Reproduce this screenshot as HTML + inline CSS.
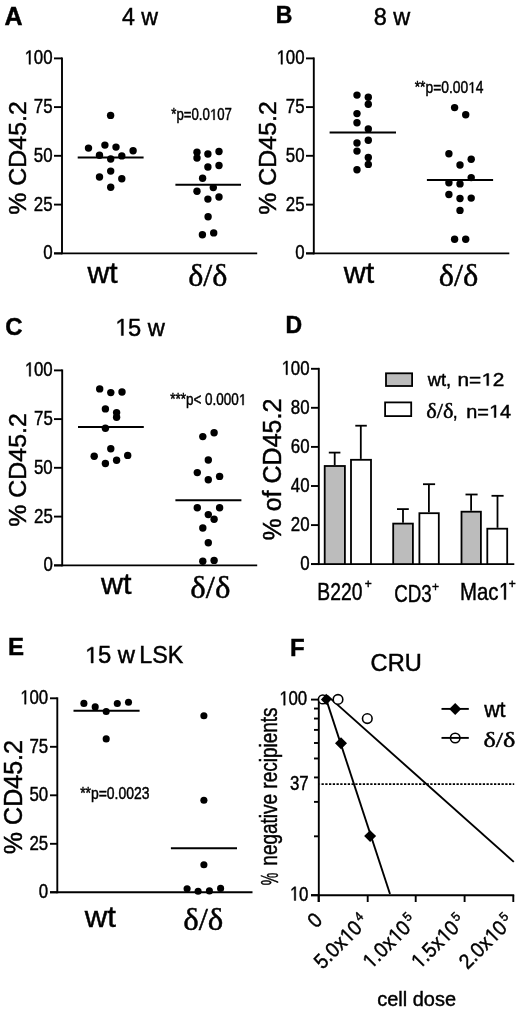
<!DOCTYPE html>
<html><head><meta charset="utf-8"><style>
html,body{margin:0;padding:0;background:#fff;}
body{width:520px;height:1013px;overflow:hidden;}
svg{display:block;will-change:transform;}
text{font-kerning:none;fill:#000;stroke:#000;stroke-width:0.45px;} path{fill:#000;}
</style></head><body>
<svg width="520" height="1013" viewBox="0 0 520 1013">
<rect width="520" height="1013" fill="#fff"/>
<g fill="#000">
<text transform="translate(4.38,24.80)" font-family='"Liberation Sans", sans-serif' font-size="25" font-weight="bold">A</text>
<text transform="translate(121.97,24.80) scale(0.9659,1)" font-family='"Liberation Sans", sans-serif' font-size="24">4 w</text>
<line x1="62.0" y1="57.449999999999996" x2="62.0" y2="254.35" stroke="#000" stroke-width="1.9"/>
<line x1="54.0" y1="58.4" x2="62.0" y2="58.4" stroke="#000" stroke-width="1.9"/>
<line x1="54.0" y1="107.1" x2="62.0" y2="107.1" stroke="#000" stroke-width="1.9"/>
<line x1="54.0" y1="155.8" x2="62.0" y2="155.8" stroke="#000" stroke-width="1.9"/>
<line x1="54.0" y1="204.6" x2="62.0" y2="204.6" stroke="#000" stroke-width="1.9"/>
<line x1="54.0" y1="253.4" x2="62.0" y2="253.4" stroke="#000" stroke-width="1.9"/>
<line x1="54.0" y1="253.4" x2="257.2" y2="253.4" stroke="#000" stroke-width="1.9"/>
<g transform="translate(24.41,64.30) scale(0.8436,1)"><text font-family='"Liberation Sans", sans-serif' font-size="20"> 00</text><path transform="scale(0.00977,-0.00977) translate(0,0)" d="M 555 0 L 736 0 L 736 1409 L 570 1409 L 237 1180 L 237 1010 L 555 1237 Z" stroke="#000" stroke-width="46.1"/></g>
<text transform="translate(33.84,113.00) scale(0.8436,1)" font-family='"Liberation Sans", sans-serif' font-size="20">75</text>
<text transform="translate(33.79,161.70) scale(0.8436,1)" font-family='"Liberation Sans", sans-serif' font-size="20">50</text>
<text transform="translate(33.84,210.50) scale(0.8436,1)" font-family='"Liberation Sans", sans-serif' font-size="20">25</text>
<text transform="translate(43.18,259.30) scale(0.8436,1)" font-family='"Liberation Sans", sans-serif' font-size="20">0</text>
<text transform="translate(25.70,214.69) rotate(-90) scale(1.0252,1)" font-family='"Liberation Sans", sans-serif' font-size="24.3">% CD45.2</text>
<circle cx="110.6" cy="115.4" r="3.7"/>
<circle cx="88.5" cy="148.1" r="3.7"/>
<circle cx="104.9" cy="145.1" r="3.7"/>
<circle cx="116.0" cy="147.1" r="3.7"/>
<circle cx="133.1" cy="150.7" r="3.7"/>
<circle cx="99.5" cy="155.2" r="3.7"/>
<circle cx="121.8" cy="155.9" r="3.7"/>
<circle cx="110.7" cy="159" r="3.7"/>
<circle cx="110.7" cy="171.1" r="3.7"/>
<circle cx="99.5" cy="177" r="3.7"/>
<circle cx="121.8" cy="178.7" r="3.7"/>
<circle cx="110.7" cy="187.2" r="3.7"/>
<circle cx="197.0" cy="152.3" r="3.7"/>
<circle cx="197.0" cy="158.0" r="3.7"/>
<circle cx="207.9" cy="154.0" r="3.7"/>
<circle cx="219.0" cy="151.5" r="3.7"/>
<circle cx="207.9" cy="167.0" r="3.7"/>
<circle cx="219.0" cy="165.5" r="3.7"/>
<circle cx="202.6" cy="178.2" r="3.7"/>
<circle cx="197.0" cy="191.2" r="3.7"/>
<circle cx="213.3" cy="187.6" r="3.7"/>
<circle cx="207.9" cy="199.1" r="3.7"/>
<circle cx="219.0" cy="197.0" r="3.7"/>
<circle cx="208.1" cy="216.7" r="3.7"/>
<circle cx="202.4" cy="234.8" r="3.7"/>
<circle cx="213.7" cy="232.9" r="3.7"/>
<line x1="77.7" y1="157.4" x2="143.6" y2="157.4" stroke="#000" stroke-width="2"/>
<line x1="175.4" y1="184.7" x2="241.0" y2="184.7" stroke="#000" stroke-width="2"/>
<g transform="translate(171.29,119.90) scale(0.8464,1)"><text font-family='"Liberation Sans", sans-serif' font-size="15.6">*p=0.0 07</text><path transform="scale(0.00762,-0.00762) translate(5979,0)" d="M 555 0 L 736 0 L 736 1409 L 570 1409 L 237 1180 L 237 1010 L 555 1237 Z" stroke="#000" stroke-width="59.1"/></g>
<text transform="translate(87.44,283.00) scale(1.0059,1)" font-family='"Liberation Sans", sans-serif' font-size="30">wt</text>
<text transform="translate(188.19,285.70) scale(1.0435,1)" font-family='"Liberation Serif", serif' font-size="30.8">δ/δ</text>
<text transform="translate(275.76,22.80)" font-family='"Liberation Sans", sans-serif' font-size="23" font-weight="bold">B</text>
<text transform="translate(373.78,24.80) scale(0.9790,1)" font-family='"Liberation Sans", sans-serif' font-size="24">8 w</text>
<line x1="313.8" y1="57.449999999999996" x2="313.8" y2="254.35" stroke="#000" stroke-width="1.9"/>
<line x1="306.0" y1="58.4" x2="313.8" y2="58.4" stroke="#000" stroke-width="1.9"/>
<line x1="306.0" y1="107.1" x2="313.8" y2="107.1" stroke="#000" stroke-width="1.9"/>
<line x1="306.0" y1="155.8" x2="313.8" y2="155.8" stroke="#000" stroke-width="1.9"/>
<line x1="306.0" y1="204.6" x2="313.8" y2="204.6" stroke="#000" stroke-width="1.9"/>
<line x1="306.0" y1="253.4" x2="313.8" y2="253.4" stroke="#000" stroke-width="1.9"/>
<line x1="306.0" y1="253.4" x2="509.3" y2="253.4" stroke="#000" stroke-width="1.9"/>
<g transform="translate(276.41,64.30) scale(0.8436,1)"><text font-family='"Liberation Sans", sans-serif' font-size="20"> 00</text><path transform="scale(0.00977,-0.00977) translate(0,0)" d="M 555 0 L 736 0 L 736 1409 L 570 1409 L 237 1180 L 237 1010 L 555 1237 Z" stroke="#000" stroke-width="46.1"/></g>
<text transform="translate(285.84,113.00) scale(0.8436,1)" font-family='"Liberation Sans", sans-serif' font-size="20">75</text>
<text transform="translate(285.79,161.70) scale(0.8436,1)" font-family='"Liberation Sans", sans-serif' font-size="20">50</text>
<text transform="translate(285.84,210.50) scale(0.8436,1)" font-family='"Liberation Sans", sans-serif' font-size="20">25</text>
<text transform="translate(295.18,259.30) scale(0.8436,1)" font-family='"Liberation Sans", sans-serif' font-size="20">0</text>
<text transform="translate(275.70,214.69) rotate(-90) scale(1.0252,1)" font-family='"Liberation Sans", sans-serif' font-size="24.3">% CD45.2</text>
<circle cx="357.0" cy="95.1" r="3.7"/>
<circle cx="357.0" cy="113.6" r="3.7"/>
<circle cx="357.0" cy="122.8" r="3.7"/>
<circle cx="357.0" cy="143" r="3.7"/>
<circle cx="357.0" cy="151.1" r="3.7"/>
<circle cx="357.0" cy="169.7" r="3.7"/>
<circle cx="368.3" cy="97.3" r="3.7"/>
<circle cx="368.3" cy="104.2" r="3.7"/>
<circle cx="368.3" cy="129" r="3.7"/>
<circle cx="368.3" cy="140.3" r="3.7"/>
<circle cx="368.3" cy="157.5" r="3.7"/>
<circle cx="368.3" cy="164.4" r="3.7"/>
<circle cx="454.6" cy="107.6" r="3.7"/>
<circle cx="465.7" cy="114.7" r="3.7"/>
<circle cx="448.9" cy="153.8" r="3.7"/>
<circle cx="471.2" cy="159.3" r="3.7"/>
<circle cx="460" cy="165" r="3.7"/>
<circle cx="471.2" cy="177.6" r="3.7"/>
<circle cx="448.9" cy="182.7" r="3.7"/>
<circle cx="460" cy="183.9" r="3.7"/>
<circle cx="448.9" cy="194.5" r="3.7"/>
<circle cx="460" cy="198.5" r="3.7"/>
<circle cx="471.2" cy="198.1" r="3.7"/>
<circle cx="460" cy="210.4" r="3.7"/>
<circle cx="454.6" cy="239.2" r="3.7"/>
<circle cx="465.7" cy="239.2" r="3.7"/>
<line x1="329.6" y1="132.4" x2="396.0" y2="132.4" stroke="#000" stroke-width="2"/>
<line x1="426.9" y1="180.1" x2="493.1" y2="180.1" stroke="#000" stroke-width="2"/>
<g transform="translate(414.68,92.90) scale(0.8865,1)"><text font-family='"Liberation Sans", sans-serif' font-size="15.6">**p=0.00 4</text><path transform="scale(0.00762,-0.00762) translate(7915,0)" d="M 555 0 L 736 0 L 736 1409 L 570 1409 L 237 1180 L 237 1010 L 555 1237 Z" stroke="#000" stroke-width="59.1"/></g>
<text transform="translate(343.74,283.00) scale(1.0160,1)" font-family='"Liberation Sans", sans-serif' font-size="30">wt</text>
<text transform="translate(438.68,286.20) scale(1.0548,1)" font-family='"Liberation Serif", serif' font-size="30.8">δ/δ</text>
<text transform="translate(5.22,335.20)" font-family='"Liberation Sans", sans-serif' font-size="24" font-weight="bold">C</text>
<g transform="translate(114.86,335.50) scale(0.9880,1)"><text font-family='"Liberation Sans", sans-serif' font-size="24"> 5 w</text><path transform="scale(0.01172,-0.01172) translate(0,0)" d="M 555 0 L 736 0 L 736 1409 L 570 1409 L 237 1180 L 237 1010 L 555 1237 Z" stroke="#000" stroke-width="38.4"/></g>
<line x1="62.2" y1="369.45" x2="62.2" y2="566.35" stroke="#000" stroke-width="1.9"/>
<line x1="54.0" y1="370.4" x2="62.2" y2="370.4" stroke="#000" stroke-width="1.9"/>
<line x1="54.0" y1="419.1" x2="62.2" y2="419.1" stroke="#000" stroke-width="1.9"/>
<line x1="54.0" y1="467.8" x2="62.2" y2="467.8" stroke="#000" stroke-width="1.9"/>
<line x1="54.0" y1="516.6" x2="62.2" y2="516.6" stroke="#000" stroke-width="1.9"/>
<line x1="54.0" y1="565.4" x2="62.2" y2="565.4" stroke="#000" stroke-width="1.9"/>
<line x1="54.0" y1="565.4" x2="257.2" y2="565.4" stroke="#000" stroke-width="1.9"/>
<g transform="translate(24.61,376.30) scale(0.8436,1)"><text font-family='"Liberation Sans", sans-serif' font-size="20"> 00</text><path transform="scale(0.00977,-0.00977) translate(0,0)" d="M 555 0 L 736 0 L 736 1409 L 570 1409 L 237 1180 L 237 1010 L 555 1237 Z" stroke="#000" stroke-width="46.1"/></g>
<text transform="translate(34.04,425.00) scale(0.8436,1)" font-family='"Liberation Sans", sans-serif' font-size="20">75</text>
<text transform="translate(33.99,473.70) scale(0.8436,1)" font-family='"Liberation Sans", sans-serif' font-size="20">50</text>
<text transform="translate(34.04,522.50) scale(0.8436,1)" font-family='"Liberation Sans", sans-serif' font-size="20">25</text>
<text transform="translate(43.38,571.30) scale(0.8436,1)" font-family='"Liberation Sans", sans-serif' font-size="20">0</text>
<text transform="translate(25.70,526.69) rotate(-90) scale(1.0252,1)" font-family='"Liberation Sans", sans-serif' font-size="24.3">% CD45.2</text>
<circle cx="99.7" cy="388.9" r="3.7"/>
<circle cx="110.8" cy="392.6" r="3.7"/>
<circle cx="122" cy="392" r="3.7"/>
<circle cx="105.4" cy="408.9" r="3.7"/>
<circle cx="116.6" cy="412.6" r="3.7"/>
<circle cx="116.6" cy="417.2" r="3.7"/>
<circle cx="105.4" cy="428.2" r="3.7"/>
<circle cx="110.8" cy="448.8" r="3.7"/>
<circle cx="94.2" cy="456.2" r="3.7"/>
<circle cx="127.7" cy="455.4" r="3.7"/>
<circle cx="116.6" cy="460.3" r="3.7"/>
<circle cx="105.4" cy="463.5" r="3.7"/>
<circle cx="202.8" cy="436.6" r="3.7"/>
<circle cx="214.1" cy="432.8" r="3.7"/>
<circle cx="208.3" cy="460" r="3.7"/>
<circle cx="197.3" cy="472.6" r="3.7"/>
<circle cx="219.6" cy="476.4" r="3.7"/>
<circle cx="208.3" cy="479.8" r="3.7"/>
<circle cx="197.3" cy="507.8" r="3.7"/>
<circle cx="219.6" cy="507.8" r="3.7"/>
<circle cx="208.3" cy="514.6" r="3.7"/>
<circle cx="214.1" cy="519.3" r="3.7"/>
<circle cx="202.8" cy="528" r="3.7"/>
<circle cx="208.3" cy="542.8" r="3.7"/>
<circle cx="202.8" cy="561.3" r="3.7"/>
<circle cx="214.1" cy="560.4" r="3.7"/>
<line x1="78.0" y1="426.9" x2="143.8" y2="426.9" stroke="#000" stroke-width="2"/>
<line x1="175.4" y1="500.3" x2="241.4" y2="500.3" stroke="#000" stroke-width="2"/>
<g transform="translate(170.18,405.10) scale(0.8640,1)"><text font-family='"Liberation Sans", sans-serif' font-size="15.6">***p&lt; 0.000 </text><path transform="scale(0.00762,-0.00762) translate(10420,0)" d="M 555 0 L 736 0 L 736 1409 L 570 1409 L 237 1180 L 237 1010 L 555 1237 Z" stroke="#000" stroke-width="59.1"/></g>
<text transform="translate(101.04,594.20) scale(1.0193,1)" font-family='"Liberation Sans", sans-serif' font-size="30">wt</text>
<text transform="translate(190.37,598.30) scale(1.0662,1)" font-family='"Liberation Serif", serif' font-size="30.8">δ/δ</text>
<text transform="translate(285.46,333.30)" font-family='"Liberation Sans", sans-serif' font-size="23" font-weight="bold">D</text>
<line x1="318.8" y1="367.85" x2="318.8" y2="565.0500000000001" stroke="#000" stroke-width="1.9"/>
<line x1="311.0" y1="368.8" x2="318.8" y2="368.8" stroke="#000" stroke-width="1.9"/>
<line x1="311.0" y1="407.8" x2="318.8" y2="407.8" stroke="#000" stroke-width="1.9"/>
<line x1="311.0" y1="446.9" x2="318.8" y2="446.9" stroke="#000" stroke-width="1.9"/>
<line x1="311.0" y1="486.0" x2="318.8" y2="486.0" stroke="#000" stroke-width="1.9"/>
<line x1="311.0" y1="525.1" x2="318.8" y2="525.1" stroke="#000" stroke-width="1.9"/>
<line x1="311.0" y1="564.1" x2="318.8" y2="564.1" stroke="#000" stroke-width="1.9"/>
<line x1="311.0" y1="564.1" x2="514.3" y2="564.1" stroke="#000" stroke-width="1.9"/>
<g transform="translate(281.41,374.70) scale(0.8436,1)"><text font-family='"Liberation Sans", sans-serif' font-size="20"> 00</text><path transform="scale(0.00977,-0.00977) translate(0,0)" d="M 555 0 L 736 0 L 736 1409 L 570 1409 L 237 1180 L 237 1010 L 555 1237 Z" stroke="#000" stroke-width="46.1"/></g>
<text transform="translate(290.79,413.70) scale(0.8436,1)" font-family='"Liberation Sans", sans-serif' font-size="20">80</text>
<text transform="translate(290.79,452.80) scale(0.8436,1)" font-family='"Liberation Sans", sans-serif' font-size="20">60</text>
<text transform="translate(290.79,491.90) scale(0.8436,1)" font-family='"Liberation Sans", sans-serif' font-size="20">40</text>
<text transform="translate(290.79,531.00) scale(0.8436,1)" font-family='"Liberation Sans", sans-serif' font-size="20">20</text>
<text transform="translate(300.18,570.00) scale(0.8436,1)" font-family='"Liberation Sans", sans-serif' font-size="20">0</text>
<text transform="translate(281.00,540.59) rotate(-90) scale(1.0022,1)" font-family='"Liberation Sans", sans-serif' font-size="25">% of CD45.2</text>
<line x1="334.7" y1="452.6" x2="334.7" y2="465.1" stroke="#000" stroke-width="1.8"/>
<line x1="328.8" y1="452.6" x2="340.4" y2="452.6" stroke="#000" stroke-width="1.8"/>
<rect x="324.70" y="466.00" width="20.20" height="98.10" fill="#bcbcbc" stroke="#000" stroke-width="1.8"/>
<line x1="360.8" y1="425.7" x2="360.8" y2="458.9" stroke="#000" stroke-width="1.8"/>
<line x1="355.3" y1="425.7" x2="366.8" y2="425.7" stroke="#000" stroke-width="1.8"/>
<rect x="351.00" y="459.80" width="20.00" height="104.30" fill="#fff" stroke="#000" stroke-width="1.8"/>
<line x1="403.0" y1="509.1" x2="403.0" y2="522.7" stroke="#000" stroke-width="1.8"/>
<line x1="397.0" y1="509.1" x2="408.8" y2="509.1" stroke="#000" stroke-width="1.8"/>
<rect x="393.20" y="523.60" width="19.70" height="40.50" fill="#bcbcbc" stroke="#000" stroke-width="1.8"/>
<line x1="428.9" y1="484.2" x2="428.9" y2="512.3" stroke="#000" stroke-width="1.8"/>
<line x1="423.0" y1="484.2" x2="435.1" y2="484.2" stroke="#000" stroke-width="1.8"/>
<rect x="419.40" y="513.20" width="19.40" height="50.90" fill="#fff" stroke="#000" stroke-width="1.8"/>
<line x1="471.1" y1="494.5" x2="471.1" y2="510.8" stroke="#000" stroke-width="1.8"/>
<line x1="465.5" y1="494.5" x2="477.6" y2="494.5" stroke="#000" stroke-width="1.8"/>
<rect x="461.50" y="511.70" width="19.40" height="52.40" fill="#bcbcbc" stroke="#000" stroke-width="1.8"/>
<line x1="497.5" y1="495.8" x2="497.5" y2="527.8" stroke="#000" stroke-width="1.8"/>
<line x1="491.5" y1="495.8" x2="503.6" y2="495.8" stroke="#000" stroke-width="1.8"/>
<rect x="487.30" y="528.70" width="19.90" height="35.40" fill="#fff" stroke="#000" stroke-width="1.8"/>
<rect x="386.0" y="373.29999999999995" width="26.099999999999998" height="12.7" fill="#bcbcbc" stroke="#000" stroke-width="1.8"/>
<rect x="385.09999999999997" y="402.4" width="26.099999999999998" height="13.7" fill="#fff" stroke="#000" stroke-width="1.8"/>
<text transform="translate(427.73,385.60) scale(1.0425,1)" font-family='"Liberation Sans", sans-serif' font-size="17.5">wt,</text>
<g transform="translate(457.52,385.60) scale(1.1879,1)"><text font-family='"Liberation Sans", sans-serif' font-size="17.5">n= 2</text><path transform="scale(0.00854,-0.00854) translate(2335,0)" d="M 555 0 L 736 0 L 736 1409 L 570 1409 L 237 1180 L 237 1010 L 555 1237 Z" stroke="#000" stroke-width="52.7"/></g>
<text transform="translate(426.26,418.20) scale(1.0853,1)" font-family='"Liberation Serif", serif' font-size="20.6">δ/δ</text>
<text transform="translate(452.83,417.50)" font-family='"Liberation Sans", sans-serif' font-size="17.5">,</text>
<g transform="translate(466.18,417.50) scale(1.1175,1)"><text font-family='"Liberation Sans", sans-serif' font-size="17.8">n= 4</text><path transform="scale(0.00869,-0.00869) translate(2335,0)" d="M 555 0 L 736 0 L 736 1409 L 570 1409 L 237 1180 L 237 1010 L 555 1237 Z" stroke="#000" stroke-width="51.8"/></g>
<text transform="translate(317.31,599.60) scale(0.8054,1)" font-family='"Liberation Sans", sans-serif' font-size="24">B220</text>
<text transform="translate(364.71,588.00)" font-family='"Liberation Sans", sans-serif' font-size="12">+</text>
<text transform="translate(394.25,602.00) scale(0.7805,1)" font-family='"Liberation Sans", sans-serif' font-size="24">CD3</text>
<text transform="translate(432.11,590.50)" font-family='"Liberation Sans", sans-serif' font-size="12">+</text>
<g transform="translate(460.03,599.60) scale(0.8501,1)"><text font-family='"Liberation Sans", sans-serif' font-size="24">Mac </text><path transform="scale(0.01172,-0.01172) translate(3869,0)" d="M 555 0 L 736 0 L 736 1409 L 570 1409 L 237 1180 L 237 1010 L 555 1237 Z" stroke="#000" stroke-width="38.4"/></g>
<text transform="translate(508.81,588.20)" font-family='"Liberation Sans", sans-serif' font-size="12">+</text>
<text transform="translate(7.89,654.70)" font-family='"Liberation Sans", sans-serif' font-size="24" font-weight="bold">E</text>
<g transform="translate(84.64,663.00) scale(1.0375,1)"><text font-family='"Liberation Sans", sans-serif' font-size="23"> 5 w</text><path transform="scale(0.01123,-0.01123) translate(0,0)" d="M 555 0 L 736 0 L 736 1409 L 570 1409 L 237 1180 L 237 1010 L 555 1237 Z" stroke="#000" stroke-width="40.1"/></g>
<text transform="translate(139.29,663.00) scale(1.0138,1)" font-family='"Liberation Sans", sans-serif' font-size="23">LSK</text>
<line x1="57.3" y1="697.3499999999999" x2="57.3" y2="893.25" stroke="#000" stroke-width="1.9"/>
<line x1="50.0" y1="698.3" x2="57.3" y2="698.3" stroke="#000" stroke-width="1.9"/>
<line x1="50.0" y1="746.8" x2="57.3" y2="746.8" stroke="#000" stroke-width="1.9"/>
<line x1="50.0" y1="795.3" x2="57.3" y2="795.3" stroke="#000" stroke-width="1.9"/>
<line x1="50.0" y1="843.8" x2="57.3" y2="843.8" stroke="#000" stroke-width="1.9"/>
<line x1="50.0" y1="892.3" x2="57.3" y2="892.3" stroke="#000" stroke-width="1.9"/>
<line x1="50.0" y1="892.3" x2="252.5" y2="892.3" stroke="#000" stroke-width="1.9"/>
<g transform="translate(20.01,704.20) scale(0.8436,1)"><text font-family='"Liberation Sans", sans-serif' font-size="20"> 00</text><path transform="scale(0.00977,-0.00977) translate(0,0)" d="M 555 0 L 736 0 L 736 1409 L 570 1409 L 237 1180 L 237 1010 L 555 1237 Z" stroke="#000" stroke-width="46.1"/></g>
<text transform="translate(29.44,752.70) scale(0.8436,1)" font-family='"Liberation Sans", sans-serif' font-size="20">75</text>
<text transform="translate(29.39,801.20) scale(0.8436,1)" font-family='"Liberation Sans", sans-serif' font-size="20">50</text>
<text transform="translate(29.44,849.70) scale(0.8436,1)" font-family='"Liberation Sans", sans-serif' font-size="20">25</text>
<text transform="translate(38.78,898.20) scale(0.8436,1)" font-family='"Liberation Sans", sans-serif' font-size="20">0</text>
<text transform="translate(21.50,854.19) rotate(-90) scale(1.0028,1)" font-family='"Liberation Sans", sans-serif' font-size="25">% CD45.2</text>
<circle cx="83.9" cy="703.4" r="3.55"/>
<circle cx="95.2" cy="706.9" r="3.55"/>
<circle cx="106.2" cy="711.5" r="3.55"/>
<circle cx="117.3" cy="703.5" r="3.55"/>
<circle cx="128.5" cy="702.3" r="3.55"/>
<circle cx="106.2" cy="738.9" r="3.55"/>
<circle cx="203.9" cy="715.8" r="3.55"/>
<circle cx="203.9" cy="800.2" r="3.55"/>
<circle cx="203.9" cy="864.7" r="3.55"/>
<circle cx="187.1" cy="888.8" r="3.55"/>
<circle cx="198.1" cy="891.3" r="3.55"/>
<circle cx="209.4" cy="890.9" r="3.55"/>
<circle cx="220.6" cy="888.4" r="3.55"/>
<line x1="73.5" y1="710.8" x2="139.6" y2="710.8" stroke="#000" stroke-width="2"/>
<line x1="170.9" y1="848.3" x2="237.0" y2="848.3" stroke="#000" stroke-width="2"/>
<text transform="translate(80.18,798.90) scale(0.8930,1)" font-family='"Liberation Sans", sans-serif' font-size="15.6">**p=0.0023</text>
<text transform="translate(84.85,927.00) scale(1.0394,1)" font-family='"Liberation Sans", sans-serif' font-size="30">wt</text>
<text transform="translate(183.16,930.00) scale(1.0690,1)" font-family='"Liberation Serif", serif' font-size="30.8">δ/δ</text>
<text transform="translate(289.89,656.00)" font-family='"Liberation Sans", sans-serif' font-size="24" font-weight="bold">F</text>
<text transform="translate(370.60,670.50) scale(1.0259,1)" font-family='"Liberation Sans", sans-serif' font-size="23">CRU</text>
<line x1="318.8" y1="698.65" x2="318.8" y2="902.0" stroke="#000" stroke-width="1.9"/>
<line x1="311.0" y1="699.6" x2="318.8" y2="699.6" stroke="#000" stroke-width="1.9"/>
<line x1="311.0" y1="895.2" x2="318.8" y2="895.2" stroke="#000" stroke-width="1.9"/>
<line x1="314.0" y1="708.5501651536681" x2="318.8" y2="708.5501651536681" stroke="#000" stroke-width="1.9"/>
<line x1="314.0" y1="718.5555985443759" x2="318.8" y2="718.5555985443759" stroke="#000" stroke-width="1.9"/>
<line x1="314.0" y1="729.8988233732114" x2="318.8" y2="729.8988233732114" stroke="#000" stroke-width="1.9"/>
<line x1="314.0" y1="742.9936154249593" x2="318.8" y2="742.9936154249593" stroke="#000" stroke-width="1.9"/>
<line x1="314.0" y1="758.4814671518748" x2="318.8" y2="758.4814671518748" stroke="#000" stroke-width="1.9"/>
<line x1="314.0" y1="777.4370656962506" x2="318.8" y2="777.4370656962506" stroke="#000" stroke-width="1.9"/>
<line x1="314.0" y1="801.8750825768341" x2="318.8" y2="801.8750825768341" stroke="#000" stroke-width="1.9"/>
<line x1="314.0" y1="836.3185328481253" x2="318.8" y2="836.3185328481253" stroke="#000" stroke-width="1.9"/>
<line x1="311.0" y1="895.2" x2="514.2" y2="895.2" stroke="#000" stroke-width="1.9"/>
<line x1="318.6" y1="895.2" x2="318.6" y2="902.0" stroke="#000" stroke-width="1.9"/>
<line x1="367.7" y1="895.2" x2="367.7" y2="902.0" stroke="#000" stroke-width="1.9"/>
<line x1="415.7" y1="895.2" x2="415.7" y2="902.0" stroke="#000" stroke-width="1.9"/>
<line x1="464.6" y1="895.2" x2="464.6" y2="902.0" stroke="#000" stroke-width="1.9"/>
<line x1="513.3" y1="895.2" x2="513.3" y2="902.0" stroke="#000" stroke-width="1.9"/>
<g transform="translate(279.11,705.20) scale(0.8436,1)"><text font-family='"Liberation Sans", sans-serif' font-size="20"> 00</text><path transform="scale(0.00977,-0.00977) translate(0,0)" d="M 555 0 L 736 0 L 736 1409 L 570 1409 L 237 1180 L 237 1010 L 555 1237 Z" stroke="#000" stroke-width="46.1"/></g>
<text transform="translate(289.88,790.00) scale(0.8436,1)" font-family='"Liberation Sans", sans-serif' font-size="20">37</text>
<g transform="translate(289.69,900.50) scale(0.8436,1)"><text font-family='"Liberation Sans", sans-serif' font-size="20"> 0</text><path transform="scale(0.00977,-0.00977) translate(0,0)" d="M 555 0 L 736 0 L 736 1409 L 570 1409 L 237 1180 L 237 1010 L 555 1237 Z" stroke="#000" stroke-width="46.1"/></g>
<line x1="319.6" y1="784.1" x2="514.2" y2="784.1" stroke="#000" stroke-width="1.8" stroke-dasharray="2.3 1.45" stroke-dashoffset="-1.9"/>
<line x1="326.2" y1="699.4" x2="390.0" y2="894.0" stroke="#000" stroke-width="1.9"/>
<line x1="327.0" y1="695.4" x2="513.8" y2="861.9" stroke="#000" stroke-width="1.9"/>
<circle cx="322.8" cy="699.4" r="4.4" fill="#fff" stroke="#000" stroke-width="1.6"/>
<polygon points="320.9,699.4 326.2,693.8 331.5,699.4 326.2,705.0"/>
<circle cx="338.0" cy="699.4" r="4.8" fill="#fff" stroke="#000" stroke-width="1.6"/>
<circle cx="367.3" cy="718.6" r="4.8" fill="#fff" stroke="#000" stroke-width="1.6"/>
<polygon points="335.0,743.3 341.0,737.3 347.0,743.3 341.0,749.3"/>
<polygon points="364.1,836.1 370.1,830.2 376.1,836.1 370.1,842.0"/>
<line x1="441.5" y1="708.9" x2="468.8" y2="708.9" stroke="#000" stroke-width="1.9"/>
<polygon points="449.2,709.0 455.2,702.9 461.2,709.0 455.2,715.1"/>
<line x1="441.5" y1="737.9" x2="468.8" y2="737.9" stroke="#000" stroke-width="1.9"/>
<circle cx="455.2" cy="738.0" r="4.75" fill="none" stroke="#000" stroke-width="1.6"/>
<text transform="translate(484.13,717.40) scale(0.9739,1)" font-family='"Liberation Sans", sans-serif' font-size="22">wt</text>
<text transform="translate(483.41,746.70) scale(1.1909,1)" font-family='"Liberation Serif", serif' font-size="22">δ/δ</text>
<text transform="translate(277.60,885.31) rotate(-90) scale(0.5789,1)" font-family='"Liberation Sans", sans-serif' font-size="24.5">%</text>
<text transform="translate(277.00,865.66) rotate(-90) scale(0.8257,1)" font-family='"Liberation Sans", sans-serif' font-size="23">negative recipients</text>
<text transform="translate(377.25,1006.00) scale(0.9512,1)" font-family='"Liberation Sans", sans-serif' font-size="21">cell dose</text>
<text transform="translate(323.5,921.5) rotate(-45) scale(0.915,1) translate(-11.68,0)" font-family='"Liberation Sans", sans-serif' font-size="21">0</text>
<g transform="translate(369.75,922.75) rotate(-45) scale(0.915,1) translate(-72.95,0)"><text font-family='"Liberation Sans", sans-serif' font-size="21">5.0x 0</text><path transform="scale(0.01025,-0.01025) translate(3871,0)" d="M 555 0 L 736 0 L 736 1409 L 570 1409 L 237 1180 L 237 1010 L 555 1237 Z" stroke="#000" stroke-width="43.9"/></g>
<text transform="translate(369.75,922.75) rotate(-45) scale(0.915,1) translate(-7.24,-7.76)" font-family='"Liberation Sans", sans-serif' font-size="13.02">4</text>
<g transform="translate(418.25,922.75) rotate(-45) scale(0.915,1) translate(-72.95,0)"><text font-family='"Liberation Sans", sans-serif' font-size="21"> .0x 0</text><path transform="scale(0.01025,-0.01025) translate(0,0)" d="M 555 0 L 736 0 L 736 1409 L 570 1409 L 237 1180 L 237 1010 L 555 1237 Z" stroke="#000" stroke-width="43.9"/><path transform="scale(0.01025,-0.01025) translate(3871,0)" d="M 555 0 L 736 0 L 736 1409 L 570 1409 L 237 1180 L 237 1010 L 555 1237 Z" stroke="#000" stroke-width="43.9"/></g>
<text transform="translate(418.25,922.75) rotate(-45) scale(0.915,1) translate(-7.24,-7.76)" font-family='"Liberation Sans", sans-serif' font-size="13.02">5</text>
<g transform="translate(466.75,922.75) rotate(-45) scale(0.915,1) translate(-72.95,0)"><text font-family='"Liberation Sans", sans-serif' font-size="21"> .5x 0</text><path transform="scale(0.01025,-0.01025) translate(0,0)" d="M 555 0 L 736 0 L 736 1409 L 570 1409 L 237 1180 L 237 1010 L 555 1237 Z" stroke="#000" stroke-width="43.9"/><path transform="scale(0.01025,-0.01025) translate(3871,0)" d="M 555 0 L 736 0 L 736 1409 L 570 1409 L 237 1180 L 237 1010 L 555 1237 Z" stroke="#000" stroke-width="43.9"/></g>
<text transform="translate(466.75,922.75) rotate(-45) scale(0.915,1) translate(-7.24,-7.76)" font-family='"Liberation Sans", sans-serif' font-size="13.02">5</text>
<g transform="translate(514.75,922.75) rotate(-45) scale(0.915,1) translate(-72.95,0)"><text font-family='"Liberation Sans", sans-serif' font-size="21">2.0x 0</text><path transform="scale(0.01025,-0.01025) translate(3871,0)" d="M 555 0 L 736 0 L 736 1409 L 570 1409 L 237 1180 L 237 1010 L 555 1237 Z" stroke="#000" stroke-width="43.9"/></g>
<text transform="translate(514.75,922.75) rotate(-45) scale(0.915,1) translate(-7.24,-7.76)" font-family='"Liberation Sans", sans-serif' font-size="13.02">5</text>
</g>
</svg>
</body></html>
